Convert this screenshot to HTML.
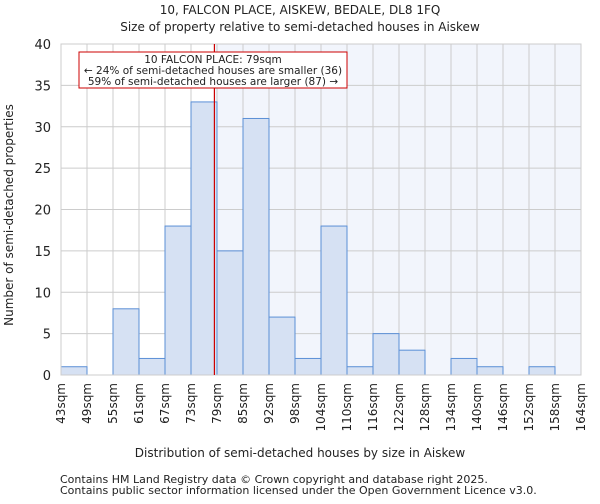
<!DOCTYPE html>
<html><head><meta charset="utf-8"><style>
body{margin:0;background:#fff;font-family:"DejaVu Sans","Liberation Sans",sans-serif;}
svg text{font-family:"DejaVu Sans","Liberation Sans",sans-serif;fill:#222;}
</style></head><body>
<svg id="chart" width="600" height="500" xmlns="http://www.w3.org/2000/svg">
<text x="300" y="14" font-size="12" text-anchor="middle">10, FALCON PLACE, AISKEW, BEDALE, DL8 1FQ</text>
<text x="300" y="31" font-size="12" text-anchor="middle">Size of property relative to semi-detached houses in Aiskew</text>
<g id="plot"></g>
<text x="300" y="457" font-size="12" text-anchor="middle">Distribution of semi-detached houses by size in Aiskew</text>
<text transform="translate(13,215) rotate(-90)" font-size="12" text-anchor="middle">Number of semi-detached properties</text>
<text x="60" y="483" font-size="11" fill="#444">Contains HM Land Registry data © Crown copyright and database right 2025.</text>
<text x="60" y="494" font-size="11" fill="#444">Contains public sector information licensed under the Open Government Licence v3.0.</text>
</svg>
<script>
const binLabels=["43sqm","49sqm","55sqm","61sqm","67sqm","73sqm","79sqm","85sqm","92sqm","98sqm","104sqm","110sqm","116sqm","122sqm","128sqm","134sqm","140sqm","146sqm","152sqm","158sqm","164sqm"];
const counts=[1,0,8,2,18,33,15,31,7,2,18,1,5,3,0,2,1,0,1,0];
const yTicks=[0,5,10,15,20,25,30,35,40];
const markerBin=5.9;
const NS="http://www.w3.org/2000/svg";
const g=document.getElementById('plot');
const L=61,R=581,T=44,B=375,yMax=40;
const n=counts.length,bw=(R-L)/n;
const xs=i=>L+i*bw;
const ys=v=>B-(v/yMax)*(B-T);
function mk(t,a){const e=document.createElementNS(NS,t);for(const k in a)e.setAttribute(k,a[k]);g.appendChild(e);return e;}
const mx=xs(markerBin);
let e=mk('rect',{x:mx,y:T,width:R-mx,height:B-T,fill:'#f2f5fc'});


yTicks.forEach(v=>{const l=mk('line',{x1:L,x2:R,y1:ys(v),y2:ys(v),stroke:'#cccccc'});


const t=mk('text',{x:L-10,y:ys(v)+5,'font-size':13,'text-anchor':'end'});t.textContent=v;

});
binLabels.forEach((lab,i)=>{const l=mk('line',{x1:xs(i),x2:xs(i),y1:T,y2:B,stroke:'#cccccc'});


const x=xs(i)+4;const t=mk('text',{x:x,y:B+8,'font-size':12,'text-anchor':'end',transform:`rotate(-90,${x},${B+8})`});t.textContent=lab;

});
counts.forEach((c,i)=>{if(c<=0)return;const r=mk('rect',{x:xs(i),y:ys(c),width:bw,height:B-ys(c),fill:'#d6e1f3',stroke:'#5b8fd6','stroke-width':1});

});
const ax=mk('rect',{x:L,y:T,width:R-L,height:B-T,fill:'none',stroke:'#cccccc'});


const ml=mk('line',{x1:mx,x2:mx,y1:T,y2:B,stroke:'#cc0000','stroke-width':1.2});


const box=mk('rect',{x:79,y:52,width:268,height:36,fill:'#fff',stroke:'#cc0000'});


["10 FALCON PLACE: 79sqm","← 24% of semi-detached houses are smaller (36)","59% of semi-detached houses are larger (87) →"].forEach((s,i)=>{const t=mk('text',{x:213,y:63+i*11,'font-size':10.5,'text-anchor':'middle'});t.textContent=s;

});
</script>
</body></html>
